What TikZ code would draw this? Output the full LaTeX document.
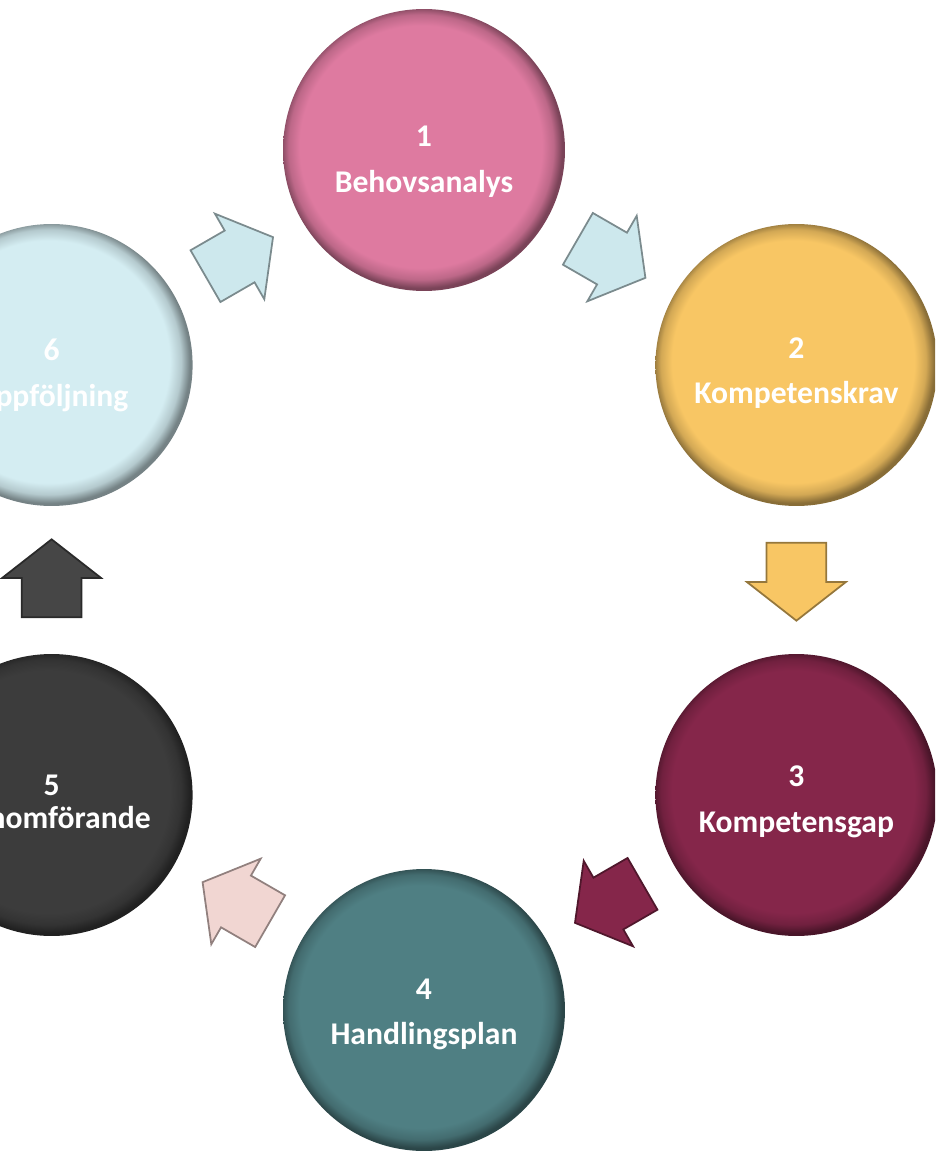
\documentclass[tikz,border=0pt]{standalone}
\usepackage{fontspec}
\setmainfont{Carlito}
\usetikzlibrary{shapes.arrows}
\usetikzlibrary{calc}

\definecolor{behov}{RGB}{222,122,160}
\definecolor{krav}{RGB}{248,198,100}
\definecolor{gap}{RGB}{133,38,74}
\definecolor{plan}{RGB}{79,127,131}
\definecolor{genom}{RGB}{60,60,60}
\definecolor{uppf}{RGB}{212,237,242}
\definecolor{pilbla}{RGB}{205,232,237}
\definecolor{pilrosa}{RGB}{241,214,210}
\definecolor{pilgra}{RGB}{70,70,70}

% flat disc with a darker rim (25bp = edge of the disc)
\newcommand\rimshading[2]{%
  \pgfdeclareradialshading{#1}{\pgfpoint{-1bp}{1bp}}{%
    color(0bp)=(#2); color(21.5bp)=(#2); color(23.5bp)=(#2!85!black);
    color(25bp)=(#2!55!black); color(50bp)=(#2!55!black)}}
\rimshading{rimbehov}{behov}
\rimshading{rimkrav}{krav}
\rimshading{rimgap}{gap}
\rimshading{rimplan}{plan}
\rimshading{rimgenom}{genom}
\rimshading{rimuppf}{uppf}

\begin{document}
\begin{tikzpicture}[x=0.02cm,y=0.02cm]
  \tikzset{stegcirkel/.style={circle,minimum size=5.64cm,inner sep=0pt,shading=rim#1},
           stegtext/.style={text=white,align=center,
             font=\bfseries\fontsize{18}{26}\selectfont},
           stegpil/.style 2 args={single arrow,minimum height=1.56cm,inner xsep=0pt,inner ysep=0.58cm,
             single arrow head extend=0.39cm,single arrow tip angle=104,
             fill=#1,draw=#1!60!black,line width=1pt,rotate=#2,xshift=-0.2cm}}
  \useasboundingbox (0,0) rectangle (935,-1151);
  \clip (0,0) rectangle (935,-1151);
  \coordinate (mitt) at (424,-580);

  \foreach \ang/\col/\nr/\txt/\gap/\dy in {90/behov/1/Behovsanalys/0pt/-0.23cm,
      30/krav/2/Kompetenskrav/0pt/-0.16cm,-30/gap/3/Kompetensgap/0pt/-0.13cm,
      -90/plan/4/Handlingsplan/0pt/-0.09cm,-150/genom/5/Genomförande/-7.3pt/-0.13cm,
      150/uppf/6/Uppföljning/0pt/-0.21cm}
    \node[stegcirkel=\col,label={[stegtext,yshift=\dy,name=text\nr]center:\nr\\[\gap]\txt}]
      (steg\nr) at ($(mitt)+(\ang:430)$) {};

  \node[stegpil={pilbla}{30}] (pil61) at ($(steg6)!0.5!(steg1)$) {};
  \node[stegpil={pilbla}{-30}] (pil12) at ($(steg1)!0.5!(steg2)$) {};
  \node[stegpil={krav}{-90}] (pil23) at ($(steg2)!0.5!(steg3)$) {};
  \node[stegpil={gap}{-150}] (pil34) at ($(steg3)!0.5!(steg4)$) {};
  \node[stegpil={pilrosa}{150}] (pil45) at ($(steg4)!0.5!(steg5)$) {};
  \node[stegpil={pilgra}{90}] (pil56) at ($(steg5)!0.5!(steg6)$) {};
\end{tikzpicture}
\end{document}
